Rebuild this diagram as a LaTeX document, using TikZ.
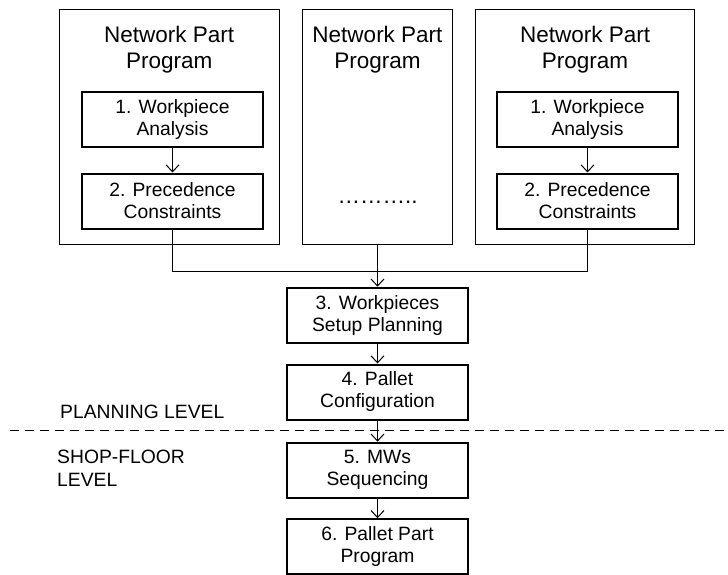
\documentclass[tikz,border=0pt]{standalone}
\usepackage{fontspec}
\setmainfont{Liberation Sans}
\usetikzlibrary{arrows.meta}
\begin{document}
\begin{tikzpicture}[x=1pt,y=-1pt,
  outerbox/.style={draw, line width=1pt, inner sep=0pt, minimum height=234.5pt},
  stepbox/.style={draw, line width=2pt, minimum width=181.5pt, minimum height=55pt,
    inner sep=0pt, align=center, font=\fontsize{19.3}{22}\selectfont},
  title/.style={align=center, inner sep=0pt, font=\fontsize{22.5}{25.6}\selectfont},
  lbl/.style={inner sep=0pt, align=left, font=\fontsize{19.3}{23}\selectfont},
  link/.style={line width=1pt, -{Straight Barb[length=7pt,width=13pt]}},
  wire/.style={line width=1pt}
]
\useasboundingbox (0,0) rectangle (728,574);

% three network part program containers
\node[outerbox, minimum width=219.5pt] (out1) at (169.25,126.75) {};
\node[outerbox, minimum width=150.7pt] (out2) at (377.5,126.75) {};
\node[outerbox, minimum width=218.8pt] (out3) at (585.1,126.75) {};

\node[title] (t1) at (169.25,49.7) {Network Part\\Program};
\node[title] (t2) at (377.5,49.7) {Network Part\\Program};
\node[title] (t3) at (585.1,49.7) {Network Part\\Program};

% steps inside the containers
\node[stepbox] (a1) at (172.5,119.25) {1. Workpiece\\Analysis};
\node[stepbox] (b1) at (172.5,201) {2. Precedence\\Constraints};
\node[stepbox] (a3) at (587.5,119.25) {1. Workpiece\\Analysis};
\node[stepbox] (b3) at (587.5,201) {2. Precedence\\Constraints};
\node[anchor=base, inner sep=0pt, font=\fontsize{22.5}{25}\selectfont] (dots) at (377.5,203) {………..};

% central chain
\node[stepbox] (s3) at (377.5,315.2) {3. Workpieces\\Setup Planning};
\node[stepbox] (s4) at (377.5,392) {4. Pallet\\Configuration};
\node[stepbox] (s5) at (377.5,470.2) {5. MWs\\Sequencing};
\node[stepbox] (s6) at (377.5,546.75) {6. Pallet Part\\Program};

% connectors
\draw[link] (a1) -- (b1);
\draw[link] (a3) -- (b3);
\coordinate (join) at (377.5,271.7);
\draw[wire] (b1.south) |- (join);
\draw[wire] (b3.south) |- (join);
\draw[link] (out2.south) -- (s3.north);
\draw[link] (s3) -- (s4);
\draw[link] (s4) -- (s5);
\draw[link] (s5) -- (s6);

% level separator
\coordinate (dl) at (10,430.7);
\coordinate (dr) at (728,430.7);
\draw[line width=1pt, dash pattern=on 9pt off 6pt] (dl) -- (dr);
\node[lbl, anchor=base west] (plan) at (60,418) {PLANNING LEVEL};
\node[lbl, anchor=north west] (shop) at (57,450) {SHOP-FLOOR\\LEVEL};
\end{tikzpicture}
\end{document}
